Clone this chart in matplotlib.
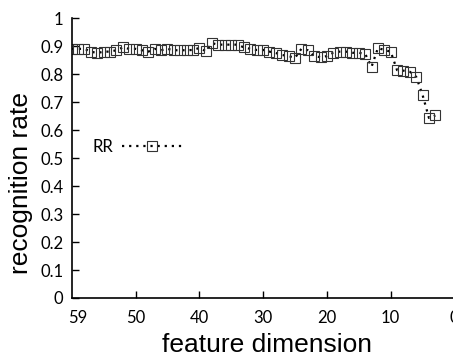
import numpy as np
import matplotlib
matplotlib.use('Agg')
import matplotlib.pyplot as plt

# data
dims = list(range(60, 2, -1))
rr = [0.89, 0.89, 0.89, 0.88, 0.875, 0.88, 0.88, 0.885, 0.895, 0.89,
      0.89, 0.885, 0.88, 0.89, 0.885, 0.89, 0.885, 0.885, 0.885, 0.886,
      0.893, 0.882, 0.91, 0.905, 0.905, 0.905, 0.905, 0.895, 0.89, 0.886,
      0.886, 0.88, 0.875, 0.868, 0.864, 0.858, 0.89, 0.885, 0.864, 0.86,
      0.864, 0.876, 0.88, 0.88, 0.876, 0.876, 0.872, 0.826, 0.893, 0.886,
      0.88, 0.814, 0.812, 0.808, 0.79, 0.725, 0.643, 0.652]
xticks = [59, 50, 40, 30, 20, 10, 0]
yticks = [0, 0.1, 0.2, 0.3, 0.4, 0.5, 0.6, 0.7, 0.8, 0.9, 1]
ytick_labels = ['0', '0.1', '0.2', '0.3', '0.4', '0.5', '0.6', '0.7', '0.8', '0.9', '1']

plt.rcParams['font.family'] = ['Lato', 'DejaVu Sans']

fig = plt.figure(figsize=(4.53, 3.58), dpi=100)
ax = fig.add_axes([0.1583, 0.1676, 0.845, 0.782])

ax.plot(dims, rr, linestyle=(0, (1, 2.2)), linewidth=1.6, color='black',
        marker='s', markersize=6.5, markerfacecolor='none',
        markeredgecolor='#333333', markeredgewidth=0.8, label='RR')

ax.set_xlim(60, 0)
ax.set_ylim(0, 1)
ax.set_xticks(xticks)
ax.set_yticks(yticks)
ax.set_yticklabels(ytick_labels)
ax.tick_params(direction='in', length=5, width=1, labelsize=12)
ax.tick_params(axis='y', pad=6)
ax.tick_params(axis='x', pad=9)
ax.xaxis.get_major_ticks()[0].tick1line.set_visible(False)

for s in ['top', 'right']:
    ax.spines[s].set_visible(False)
for s in ['left', 'bottom']:
    ax.spines[s].set_linewidth(1.2)

ax.set_xlabel('feature dimension', fontsize=19, family='Liberation Sans')
ax.set_ylabel('recognition rate', fontsize=19, family='Liberation Sans')
ax.xaxis.set_label_coords(0.51, -0.125)
ax.yaxis.set_label_coords(-0.1, 0.41)

ax.legend(loc='center left', bbox_to_anchor=(0.015, 0.54), frameon=False,
          markerfirst=False, handlelength=3.6, fontsize=12, handletextpad=0.5)

fig.savefig('out.png', dpi=100)
